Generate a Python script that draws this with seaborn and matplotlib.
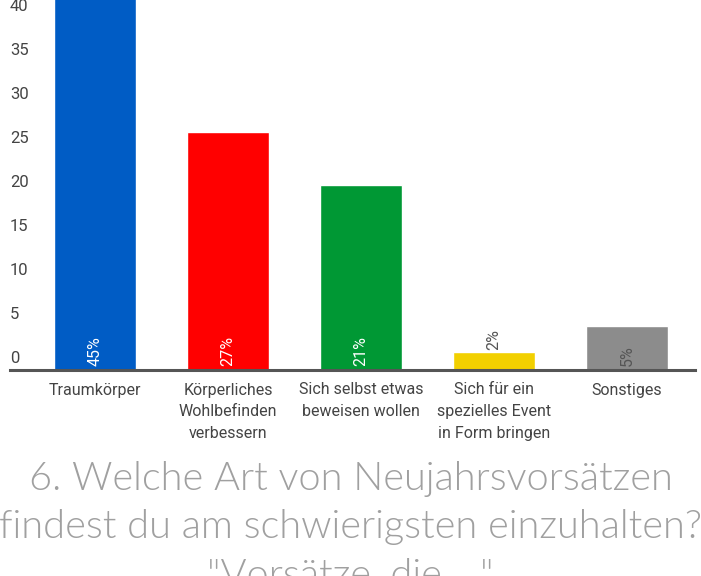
import matplotlib
matplotlib.use("Agg")
import matplotlib.pyplot as plt
import matplotlib.transforms as mtransforms
import pandas as pd
import seaborn as sns

# data
categories = ["Traumkörper", "Körperliches\nWohlbefinden\nverbessern",
              "Sich selbst etwas\nbeweisen wollen",
              "Sich für ein\nspezielles Event\nin Form bringen", "Sonstiges"]
percent = [45, 27, 21, 2, 5]
bar_colors = ["#005cc5", "#ff0000", "#009834", "#f2d000", "#8c8c8c"]
yticks = [0, 5, 10, 15, 20, 25, 30, 35, 40]
title = ('6. Welche Art von Neujahrsvorsätzen\n'
         'findest du am schwierigsten einzuhalten?\n'
         '"Vorsätze, die ..."')

df = pd.DataFrame({"cat": categories, "pct": percent})

sns.set_style("white")
plt.rcParams["font.family"] = ["Roboto", "DejaVu Sans"]

fig = plt.figure(figsize=(7.01, 5.76), dpi=100)
# axes: x from px 10 to 695, y from px 0 to 370
ax = fig.add_axes([10 / 701, 1 - 370 / 576, 685 / 701, 370 / 576])

sns.barplot(data=df, x="cat", y="pct", hue="cat", palette=bar_colors,
            width=0.61, legend=False, ax=ax, saturation=1)

ax.set_xlim(-0.639, 4.511)
ax.set_ylim(0, 42.0)
ax.set_xlabel("")
ax.set_ylabel("")

for s in ["top", "right", "left"]:
    ax.spines[s].set_visible(False)
ax.spines["bottom"].set_color("#555555")
ax.spines["bottom"].set_linewidth(2.2)

ax.set_yticks(yticks)
ax.set_yticklabels([str(t) for t in yticks])
ax.tick_params(axis="y", length=0, pad=0, labelsize=12, labelcolor="#444444")
ax.tick_params(axis="x", length=0, pad=9, labelsize=11.5, labelcolor="#444444")
offset = mtransforms.ScaledTranslation(0, 13 / 100, fig.dpi_scale_trans)
for lab in ax.get_yticklabels():
    lab.set_horizontalalignment("left")
    lab.set_transform(lab.get_transform() + offset)
for lab in ax.get_xticklabels():
    lab.set_linespacing(1.55)
    lab.set_verticalalignment("top")

# value labels, rotated
up = mtransforms.ScaledTranslation(0, 4 / 100, fig.dpi_scale_trans)
for i, v in enumerate(percent):
    if v < 4:
        ax.text(i, v, f"{v}%", rotation=90, ha="center", va="bottom",
                fontsize=11.5, color="#555555",
                transform=ax.transData + mtransforms.ScaledTranslation(0, 2 / 100, fig.dpi_scale_trans))
    else:
        col = "#555555" if bar_colors[i] == "#8c8c8c" else "white"
        ax.text(i, 0, f"{v}%", rotation=90, ha="center", va="bottom",
                fontsize=11.5, color=col, transform=ax.transData + up)

fig.text(0.5, 1 - 461 / 576, title, ha="center", va="top",
         fontsize=28.6, color="#a0a0a0", family=["Lato", "DejaVu Sans"],
         fontweight=300, linespacing=1.42)

fig.savefig("out.png", dpi=100)
